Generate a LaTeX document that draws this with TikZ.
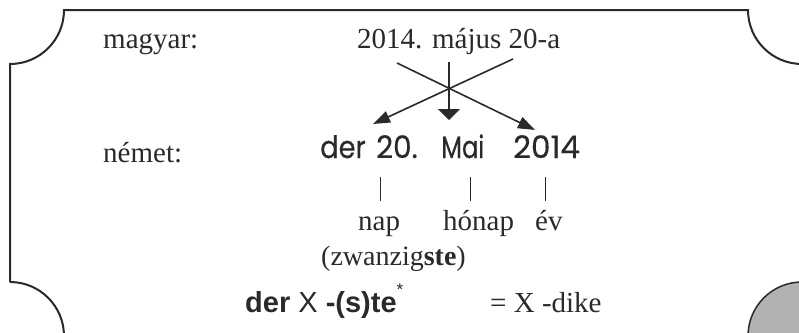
\documentclass[tikz,border=0pt]{standalone}
\usepackage{fontspec}
\usepackage{graphicx}
\setmainfont{Liberation Serif}
\newfontfamily\comicf[FakeBold=0.4]{Poppins}
\newfontfamily\arialf{Liberation Sans}
\usetikzlibrary{arrows.meta}
\definecolor{ink}{HTML}{2A2A2A}
\begin{document}
\begin{tikzpicture}[x=1pt,y=-1pt,
  serif/.style={anchor=base west, inner sep=0pt, text=ink, font=\fontsize{29}{31}\selectfont},
  comic/.style={anchor=base west, inner sep=0pt, text=ink, font=\comicf\fontsize{31}{33}\selectfont},
  sans/.style={anchor=base west, inner sep=0pt, text=ink, font=\arialf\fontsize{29}{31}\selectfont},
  frameline/.style={draw=ink, line width=2pt},
  diagarrow/.style={draw=ink, line width=1.6pt, -{Triangle[length=17pt,width=12pt]}},
  downarrow/.style={draw=ink, line width=1.6pt, -{Triangle[length=11pt,width=22pt]}},
  tick/.style={draw=ink, line width=1pt}
]
\useasboundingbox (0,0) rectangle (799,332);
\clip (0,0) rectangle (799,332);
\fill[white] (0,0) rectangle (799,332);
% frame
\draw[frameline] (10,282) -- (10,64) arc[start angle=-90, end angle=0, radius=54pt]
  -- (748,10) arc[start angle=180, end angle=270, radius=54pt]
  -- (802,282);
\draw[frameline] (10,282) arc[start angle=90, end angle=0, radius=54pt];
\filldraw[fill=gray!60, draw=ink, line width=1.5pt] (802,336) -- (802,282) arc[start angle=90, end angle=180, radius=54pt] -- cycle;
% texts
\node[serif] (magyar) at (103,48) {magyar:};
\node[serif] (hu) at (357,48) {2014. május 20-a};
\node[serif] (nemet) at (103,162) {német:};
\node[comic] (de1) at (320,158) {\scalebox{0.88}[1]{der}};
\node[comic] (de2) at (376,158) {\scalebox{0.95}[1]{20.}};
\node[comic] (de3) at (441,158) {\scalebox{0.78}[1]{Mai}};
\node[comic] (de4) at (513,158) {2014};
\node[serif] (nap) at (358,230) {nap};
\node[serif] (honap) at (443,230) {hónap};
\node[serif] (ev) at (535,230) {év};
\node[serif, font=\fontsize{28}{30}\selectfont] (zw) at (321,265) {(zwanzig\textbf{ste})};
\node[sans] (rule) at (245,312) {\textbf{der} X \textbf{-(s)te}\raisebox{17pt}{\fontsize{17}{17}\selectfont *}};
\node[serif] (dike) at (490,312) {= X -dike};
% arrow coordinates
\coordinate (s1) at (513,59);
\coordinate (e1) at (373,124);
\coordinate (s2) at (397,63);
\coordinate (e2) at (535,130);
\coordinate (s3) at (449,62);
\coordinate (e3) at (449,120);
\draw[diagarrow] (s1) -- (e1);
\draw[diagarrow] (s2) -- (e2);
\draw[downarrow] (s3) -- (e3);
% ticks
\coordinate (t1a) at (380,177); \coordinate (t1b) at (380,201);
\coordinate (t2a) at (470,177); \coordinate (t2b) at (470,201);
\coordinate (t3a) at (545,177); \coordinate (t3b) at (545,201);
\draw[tick] (t1a) -- (t1b);
\draw[tick] (t2a) -- (t2b);
\draw[tick] (t3a) -- (t3b);
\end{tikzpicture}
\end{document}
